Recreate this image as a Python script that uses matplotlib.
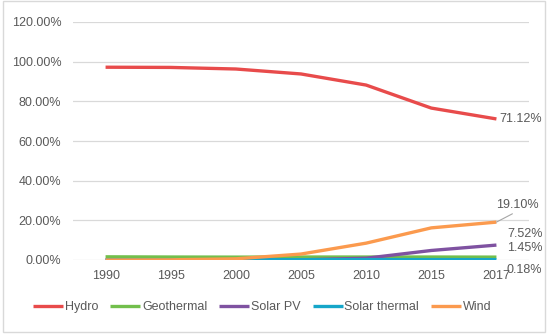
import numpy as np
import matplotlib.pyplot as plt
from matplotlib.patches import Rectangle

years = ['1990', '1995', '2000', '2005', '2010', '2015', '2017']
hydro = [97.2, 97.1, 96.3, 93.8, 88.2, 76.6, 71.12]
geothermal = [1.6, 1.5, 1.45, 1.5, 1.5, 1.5, 1.45]
solar_pv = [0.0, 0.0, 0.0, 0.1, 0.9, 4.8, 7.52]
solar_thermal = [0.1, 0.1, 0.1, 0.15, 0.2, 0.2, 0.18]
wind = [0.0, 0.1, 0.6, 3.0, 8.5, 16.2, 19.10]
yticks = [0, 20, 40, 60, 80, 100, 120]

plt.rcParams['font.family'] = ['Liberation Sans', 'DejaVu Sans']
grey = '#595959'
fs = 9

fig = plt.figure(figsize=(5.5, 3.34), dpi=100)
fig.patches.append(Rectangle((3 / 550, 2 / 334), 542 / 550, 331 / 334, transform=fig.transFigure,
                             fill=False, edgecolor='#d9d9d9', linewidth=1))
ax = fig.add_axes([73 / 550, 74 / 334, 456 / 550, 238 / 334])

x = np.arange(len(years))
series = [('Hydro', hydro, '#e84b4b'),
          ('Geothermal', geothermal, '#72bf4c'),
          ('Solar PV', solar_pv, '#7f52a1'),
          ('Solar thermal', solar_thermal, '#16a6c9'),
          ('Wind', wind, '#fb9a4e')]
for name, vals, col in series:
    ax.plot(x, vals, color=col, linewidth=2.4, label=name, solid_capstyle='butt')

ax.set_xlim(-0.5, len(years) - 0.5)
ax.set_ylim(0, 120)
ax.set_yticks(yticks)
ax.set_yticklabels(['%.2f%%' % v for v in yticks])
ax.set_xticks(x)
ax.set_xticklabels(years)
ax.yaxis.grid(True, color='#d9d9d9', linewidth=0.9)
ax.set_axisbelow(True)
for s in ax.spines.values():
    s.set_visible(False)
ax.tick_params(length=0, labelsize=fs, labelcolor=grey)
ax.tick_params(axis='y', pad=8.5)
ax.tick_params(axis='x', pad=7)

# end-of-line labels
xe = x[-1]
ax.text(xe + 0.05, hydro[-1], '%.2f%%' % hydro[-1], fontsize=fs, color=grey, va='center', ha='left')
ax.annotate('%.2f%%' % wind[-1], xy=(xe, wind[-1]), xytext=(0, 8), textcoords='offset points',
            fontsize=fs, color=grey, va='bottom', ha='left', annotation_clip=False,
            arrowprops=dict(arrowstyle='-', color='#a6a6a6', linewidth=0.8, shrinkA=0, shrinkB=0,
                            relpos=(0.5, 0)))
ax.text(xe + 0.17, solar_pv[-1] + 5.6, '%.2f%%' % solar_pv[-1], fontsize=fs, color=grey, va='center', ha='left',
        clip_on=False)
ax.text(xe + 0.17, geothermal[-1] + 4.6, '%.2f%%' % geothermal[-1], fontsize=fs, color=grey, va='center', ha='left',
        clip_on=False)
ax.text(xe + 0.15, solar_thermal[-1] - 5.2, '%.2f%%' % solar_thermal[-1], fontsize=fs, color=grey, va='center', ha='left',
        clip_on=False)

leg = fig.legend(loc='center', bbox_to_anchor=(0.477, 0.081), ncol=5, frameon=False,
                 fontsize=fs, handlelength=2.4, handletextpad=0.15, columnspacing=0.95)
for t in leg.get_texts():
    t.set_color(grey)

fig.savefig('out.png', dpi=100)
